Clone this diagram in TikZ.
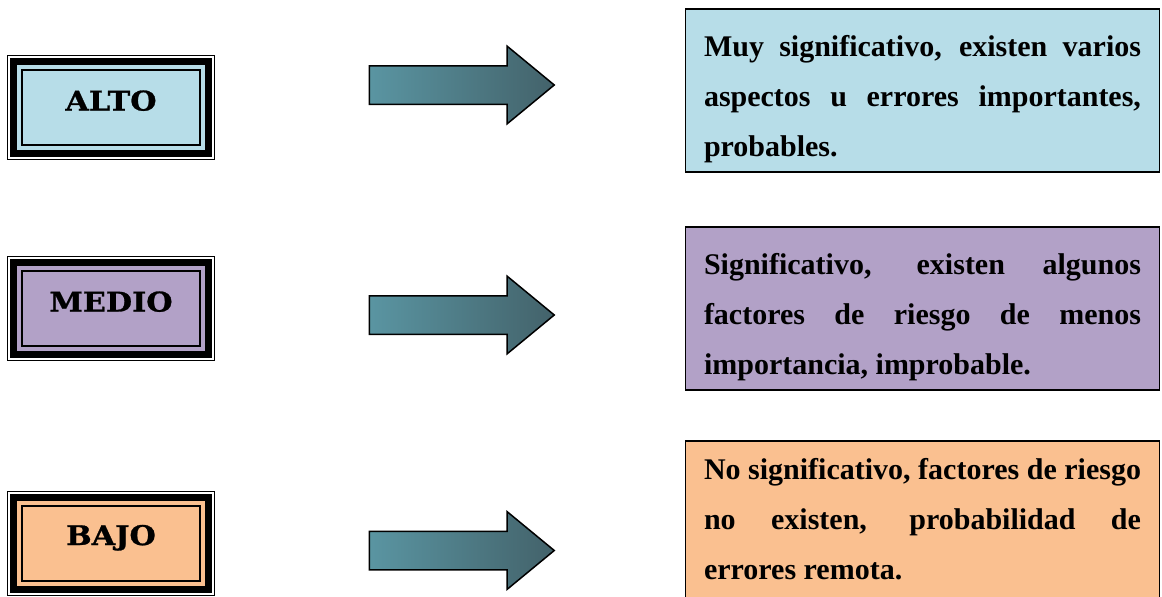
\documentclass[tikz,border=0pt]{standalone}
\usepackage{fontspec}
\setmainfont{Liberation Serif}
\newfontfamily\levelfont{DejaVu Serif}[FakeStretch=1.12, BoldFeatures={FakeBold=1}]
\usetikzlibrary{positioning, shapes.arrows}
\definecolor{altoC}{HTML}{B7DDE8}
\definecolor{medioC}{HTML}{B2A1C7}
\definecolor{bajoC}{HTML}{FAC090}
\definecolor{arrL}{HTML}{5A95A2}
\definecolor{arrM}{HTML}{7DB4C0}
\definecolor{arrR}{HTML}{43626A}
\hyphenpenalty=10000
\exhyphenpenalty=10000
\tolerance=9999
\newcommand\topgap{\rule{0pt}{39pt}}
\newcommand\botgap{\rule[-8pt]{0pt}{8pt}}
\tikzset{lvl/.style={draw=black, line width=7pt, fill=#1, minimum width=195pt, minimum height=92pt, inner sep=0pt, text height=20pt, text depth=14pt, font=\levelfont\bfseries\fontsize{27}{27}\selectfont, preaction={draw=black, line width=13pt}, preaction={draw=white, line width=11pt}, path picture={\draw[black, line width=2pt] ([shift={(8.5pt,8.5pt)}]path picture bounding box.south west) rectangle ([shift={(-8.5pt,-8.5pt)}]path picture bounding box.north east);}}}
\tikzset{arrw/.style={single arrow, draw=black, line width=1.5pt, left color=arrL, middle color=arrM, right color=arrR, minimum height=185pt, inner xsep=0pt, inner ysep=18.5pt, single arrow head extend=19.5pt, single arrow tip angle=79, anchor=tail}}
\tikzset{desc/.style={draw=black, line width=1.5pt, fill=#1, minimum width=474pt, minimum height=163pt, text width=437pt, align=justify, inner sep=0pt, font=\bfseries\fontsize{30}{50}\selectfont}}

\begin{document}
\begin{tikzpicture}[x=1pt, y=-1pt]
	\useasboundingbox (0,0) rectangle (1162,597);
	% niveles
	\node[lvl=altoC] (A) at (111,107.5) {ALTO};
	\node[lvl=medioC] (M) at (111,308.5) {MEDIO};
	\node[lvl=bajoC, text depth=16pt] (B) at (111,543) {BAJO};
	% flechas
	\node[arrw] (aA) at (368.5,85) {};
	\node[arrw] (aM) at (368.5,315) {};
	\node[arrw] (aB) at (368.5,550.5) {};
	% descripciones
	\node[desc=altoC] (dA) at (922.5,90.5)
		{\topgap Muy significativo, existen varios aspectos u errores importantes, probables.};
	\node[desc=medioC] (dM) at (922.5,308.5)
		{\topgap Significativo, existen algunos factores de riesgo de menos importancia, improbable.};
	\node[desc=bajoC] (dB) at (922.5,522.5)
		{No significativo, factores de riesgo\linebreak no existen, probabilidad de\linebreak errores remota.\botgap};
\end{tikzpicture}
\end{document}
